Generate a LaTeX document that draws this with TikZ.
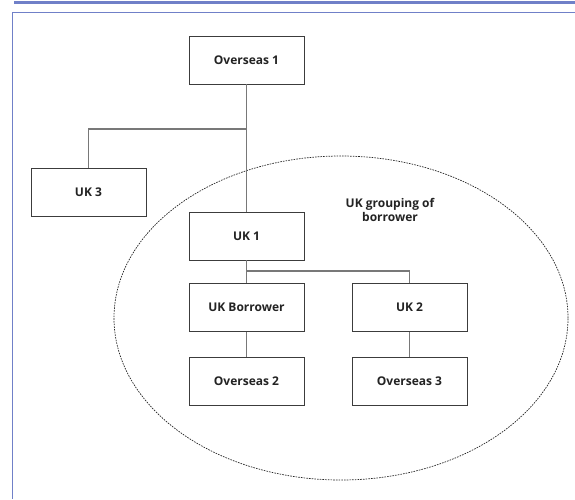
\documentclass[tikz,border=0pt]{standalone}
\usepackage{fontspec}
\setmainfont{Open Sans}
\definecolor{framec}{RGB}{112,128,200}
\definecolor{boxc}{RGB}{60,60,60}
\definecolor{linec}{RGB}{120,120,120}
\definecolor{textc}{RGB}{35,35,35}
\tikzset{
  unitbox/.style={rectangle, draw=boxc, line width=0.9pt, fill=white, minimum width=115pt, minimum height=48pt, inner sep=0pt, font=\bfseries\fontsize{12}{14}\selectfont, text=textc},
  link/.style={draw=linec, line width=1.2pt}
}
\begin{document}
\begin{tikzpicture}[x=1pt, y=1pt, node distance=74pt]
    \useasboundingbox (0,0) rectangle (575,-499);
    % frame
    \draw[framec, line width=3pt] (14,-2.5) -- (575,-2.5);
    \draw[framec, line width=1pt] (12.5,-499) -- (12.5,-12) -- (575,-12);

    % grouping
    \draw[black!85, line width=0.7pt, dash pattern=on 1.6pt off 1.1pt] (341,-318) ellipse [x radius=227, y radius=162];
    \node (grplbl) [align=center, font=\bfseries\fontsize{12}{14.5}\selectfont, text=textc] at (390,-210) {UK grouping of\\borrower};

    \node (ov1) [unitbox] at (246.5,-60) {Overseas 1};
    \node (uk3) [unitbox] at (88.5,-192.5) {UK 3};
    \node (uk1) [unitbox] at (246.5,-236) {UK 1};
    \node (ukb) [unitbox] at (246.5,-307.5) {UK Borrower};
    \node (uk2) [unitbox] at (409.5,-307.5) {UK 2};
    \node (ov2) [unitbox, below of=ukb] {Overseas 2};
    \node (ov3) [unitbox, below of=uk2] {Overseas 3};

    \coordinate (j1) at (246.5,-129);
    \coordinate (j2) at (246.5,-271);

    \draw[link] (ov1) -- (uk1);
    \draw[link] (j1) -| (uk3);
    \draw[link] (uk1) -- (ukb);
    \draw[link] (j2) -| (uk2);
    \draw[link] (ukb) -- (ov2);
    \draw[link] (uk2) -- (ov3);
\end{tikzpicture}
\end{document}
